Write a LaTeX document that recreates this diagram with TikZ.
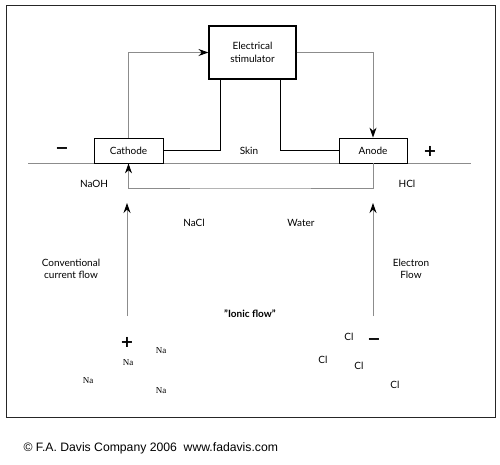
\documentclass[tikz,border=0pt]{standalone}
\usepackage{fontspec}
\setmainfont{Lato}
\newfontfamily\creditfont{Liberation Sans}
\newfontfamily\ionfont{Liberation Serif}
\newfontfamily\signfont{DejaVu Sans}
\usetikzlibrary{arrows.meta, positioning, calc}
\definecolor{wiregray}{HTML}{8C8C8C}

\tikzset{
  unit/.style={draw, thick, fill=white, font=\fontsize{10}{12}\selectfont, inner sep=2pt},
  flow/.style={wiregray, line width=0.9pt, -{Stealth[black, length=10pt, width=7pt]}},
  lead/.style={black, line width=1.4pt},
  lbl/.style={font=\fontsize{10}{12}\selectfont, align=center},
  ion/.style={font=\ionfont\fontsize{9}{10}\selectfont},
  chg/.style={font=\signfont\bfseries\fontsize{16}{16}\selectfont}
}

\begin{document}
\begin{tikzpicture}[x=1pt, y=-1pt]
    \useasboundingbox (0,0) rectangle (500,464);

    % Frame
    \draw[line width=1pt, black!85] (6,5) rectangle (495,417);

    % Skin line
    \coordinate (skinL) at (28,163);
    \coordinate (skinR) at (471,163);
    \draw[wiregray, line width=0.9pt] (skinL) -- (skinR);

    % Units
    \node[unit, minimum width=87pt, minimum height=53pt, align=center, line width=1.1pt] (stim) at (252.5,52.5) {Electrical\\[1pt]stimulator};
    \node[unit, minimum width=69pt, minimum height=25pt] (cathode) at (128.5,150.5) {Cathode};
    \node[unit, minimum width=68pt, minimum height=25pt] (anode) at (373,150.5) {Anode};

    % Leads
    \draw[lead] ($(stim.south west)+(12,0)$) |- (cathode.east);
    \draw[lead] ($(stim.south east)+(-16,0)$) |- (anode.west);

    % Current through the stimulator
    \draw[flow] (cathode.north) |- (stim.west);
    \draw[flow] (stim.east) -| (anode.north);

    % Current under the skin
    \coordinate (under) at (250,188);
    \draw[flow] (anode.south) |- (under) -| (cathode.south);

    % Signs and labels
    \node[chg] (neg) at (62,151) {−};
    \node[chg] (pos) at (430,151) {+};
    \node[lbl] (skin) at (249,151) {Skin};
    \node[lbl] (naoh) at (94,184) {NaOH};
    \node[lbl] (hcl) at (407,184) {HCl};
    \node[lbl] (nacl) at (194,223) {NaCl};
    \node[lbl] (water) at (301,223) {Water};
    \node[lbl] (conv) at (71,269) {Conventional\\current flow};
    \node[lbl] (elec) at (411,269) {Electron\\Flow};
    \node[lbl, font=\bfseries\fontsize{10}{12}\selectfont] (ionic) at (250,314) {"Ionic flow"};

    % Flow arrows
    \coordinate (convA) at (127,316);
    \coordinate (convB) at (127,203);
    \coordinate (elecA) at (373,316);
    \coordinate (elecB) at (373,203);
    \draw[flow] (convA) -- (convB);
    \draw[flow] (elecA) -- (elecB);

    % Ions
    \node[chg] (ionpos) at (127,342) {+};
    \node[ion] (na1) at (161,351) {Na};
    \node[ion] (na2) at (128,363) {Na};
    \node[ion] (na3) at (88,381) {Na};
    \node[ion] (na4) at (161,391) {Na};
    \node[chg] (ionneg) at (374,342) {−};
    \node[lbl] (cl1) at (349,337) {Cl};
    \node[lbl] (cl2) at (323,360) {Cl};
    \node[lbl] (cl3) at (359,366) {Cl};
    \node[lbl] (cl4) at (395,385) {Cl};

    % Credit
    \node[anchor=west, font=\creditfont\fontsize{12.2}{14}\selectfont] (credit) at (20,448) {© F.A. Davis Company 2006\ \ www.fadavis.com};
\end{tikzpicture}
\end{document}
